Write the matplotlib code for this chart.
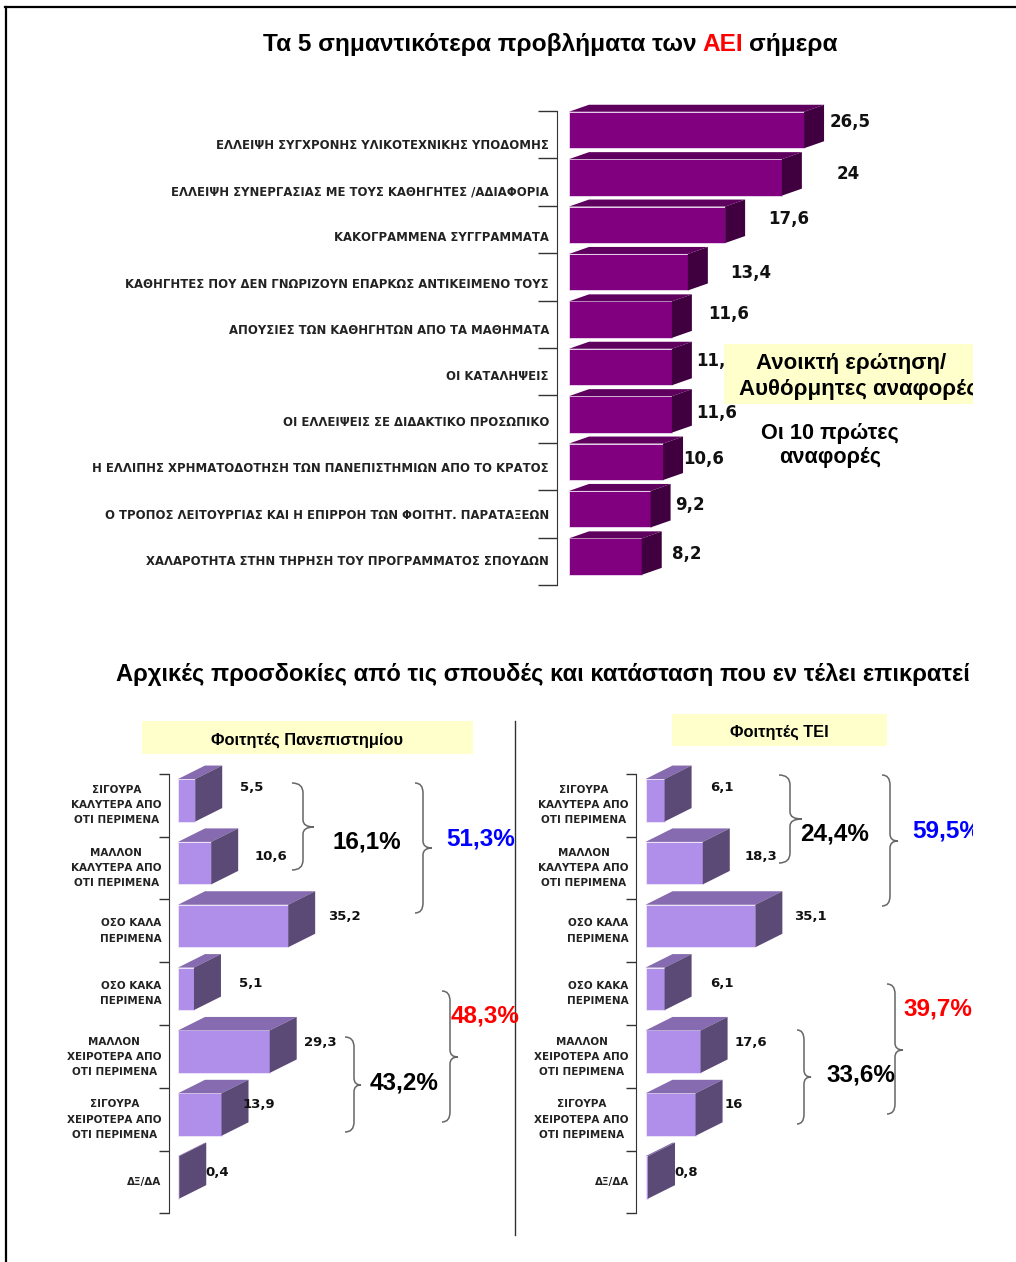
import matplotlib
matplotlib.use('Agg')
import matplotlib.pyplot as plt
from matplotlib.patches import Polygon, Rectangle, PathPatch
from matplotlib.path import Path

W, H = 1016, 1262

# data
problems = ['ΕΛΛΕΙΨΗ ΣΥΓΧΡΟΝΗΣ ΥΛΙΚΟΤΕΧΝΙΚΗΣ ΥΠΟΔΟΜΗΣ',
            'ΕΛΛΕΙΨΗ ΣΥΝΕΡΓΑΣΙΑΣ ΜΕ ΤΟΥΣ ΚΑΘΗΓΗΤΕΣ /ΑΔΙΑΦΟΡΙΑ',
            'ΚΑΚΟΓΡΑΜΜΕΝΑ ΣΥΓΓΡΑΜΜΑΤΑ',
            'ΚΑΘΗΓΗΤΕΣ ΠΟΥ ΔΕΝ ΓΝΩΡΙΖΟΥΝ ΕΠΑΡΚΩΣ ΑΝΤΙΚΕΙΜΕΝΟ ΤΟΥΣ',
            'ΑΠΟΥΣΙΕΣ ΤΩΝ ΚΑΘΗΓΗΤΩΝ ΑΠΟ ΤΑ ΜΑΘΗΜΑΤΑ',
            'ΟΙ ΚΑΤΑΛΗΨΕΙΣ',
            'ΟΙ ΕΛΛΕΙΨΕΙΣ ΣΕ ΔΙΔΑΚΤΙΚΟ ΠΡΟΣΩΠΙΚΟ',
            'Η ΕΛΛΙΠΗΣ ΧΡΗΜΑΤΟΔΟΤΗΣΗ ΤΩΝ ΠΑΝΕΠΙΣΤΗΜΙΩΝ ΑΠΟ ΤΟ ΚΡΑΤΟΣ',
            'Ο ΤΡΟΠΟΣ ΛΕΙΤΟΥΡΓΙΑΣ ΚΑΙ Η ΕΠΙΡΡΟΗ ΤΩΝ ΦΟΙΤΗΤ. ΠΑΡΑΤΑΞΕΩΝ',
            'ΧΑΛΑΡΟΤΗΤΑ ΣΤΗΝ ΤΗΡΗΣΗ ΤΟΥ ΠΡΟΓΡΑΜΜΑΤΟΣ ΣΠΟΥΔΩΝ']
problem_values = [26.5, 24, 17.6, 13.4, 11.6, 11.6, 11.6, 10.6, 9.2, 8.2]

expect_cats = ['ΣΙΓΟΥΡΑ\nΚΑΛΥΤΕΡΑ ΑΠΟ\nΟΤΙ ΠΕΡΙΜΕΝΑ',
               'ΜΑΛΛΟΝ\nΚΑΛΥΤΕΡΑ ΑΠΟ\nΟΤΙ ΠΕΡΙΜΕΝΑ',
               'ΟΣΟ ΚΑΛΑ\nΠΕΡΙΜΕΝΑ',
               'ΟΣΟ ΚΑΚΑ\nΠΕΡΙΜΕΝΑ',
               'ΜΑΛΛΟΝ\nΧΕΙΡΟΤΕΡΑ ΑΠΟ\nΟΤΙ ΠΕΡΙΜΕΝΑ',
               'ΣΙΓΟΥΡΑ\nΧΕΙΡΟΤΕΡΑ ΑΠΟ\nΟΤΙ ΠΕΡΙΜΕΝΑ',
               'ΔΞ/ΔΑ']
uni_values = [5.5, 10.6, 35.2, 5.1, 29.3, 13.9, 0.4]
tei_values = [6.1, 18.3, 35.1, 6.1, 17.6, 16, 0.8]

# hand placed value labels, pixels from the bar end
problem_off = [(26, 8), (55, 3), (43, 6), (42, -1), (36, 6), (24, 6), (24, 1), (20, 3), (25, 4), (30, 3)]
uni_off = [(45, 13), (43, 7), (40, 10), (45, 5), (34, 9), (21, 10), (26, 5)]
tei_off = [(46, 13), (42, 7), (39, 10), (46, 5), (34, 9), (29, 10), (26, 5)]

fig = plt.figure(figsize=(W / 100, H / 100), dpi=100, facecolor='white')


def pixel_axes(x0, y0, x1, y1):
    ax = fig.add_axes([x0 / W, 1 - y1 / H, (x1 - x0) / W, (y1 - y0) / H])
    ax.patch.set_alpha(0)
    for s in ['top', 'right', 'bottom']:
        ax.spines[s].set_visible(False)
    ax.spines['left'].set_color('#333333')
    ax.xaxis.set_visible(False)
    return ax


def bars3d(ax, values, height, ddx, ddy, front, top, side):
    ys = list(range(len(values)))
    ax.barh(ys, values, height=height, color=front, edgecolor='#f4eefa', linewidth=0.5)
    for y, v in zip(ys, values):
        t = y - height / 2
        b = y + height / 2
        ax.add_patch(Polygon([(0, t), (ddx, t - ddy), (v + ddx, t - ddy), (v, t)], fc=top, ec='none', clip_on=False))
        ax.add_patch(Polygon([(v, t), (v + ddx, t - ddy), (v + ddx, b - ddy), (v, b)], fc=side, ec='none', clip_on=False))


def put_values(ax, values, offs, size):
    for i, v in enumerate(values):
        s = ('%g' % v).replace('.', ',')
        ax.annotate(s, xy=(v, i), xytext=(offs[i][0], offs[i][1]), textcoords='offset pixels',
                    fontsize=size, fontweight='bold', family='DejaVu Sans', color='#111111',
                    va='center', ha='left', annotation_clip=False)


# top chart
px = 8.87
ax1 = pixel_axes(557, 111, 830, 585)
ax1.set_xlim(-12 / px, (830 - 569) / px)
y_top = lambda p: (p - 130) / 47.4
ax1.set_ylim(y_top(585), y_top(111))
bars3d(ax1, problem_values, 36.5 / 47.4, 20 / px, 7 / 47.4, '#800080', '#5f005f', '#400040')
ax1.set_yticks([y_top(111 + 47.4 * i) for i in range(11)])
ax1.set_yticklabels([])
ax1.tick_params(axis='y', length=14, width=1, color='#333333')
put_values(ax1, problem_values, problem_off, 12)
for i, lab in enumerate(problems):
    ax1.annotate(lab, xy=(0, y_top(145.5 + 46.2 * i)), xycoords=ax1.get_yaxis_transform(), xytext=(-8, 0),
                 textcoords='offset pixels', ha='right', va='center', fontsize=8.4,
                 fontweight='bold', family='DejaVu Sans', color='#222222')


# lower charts
def lower_chart(x_axis, values, offs):
    p = 3.13
    ax = pixel_axes(x_axis, 773.7, x_axis + 180, 1213.3)
    y_pos = lambda q: (q - 800.3) / 62.85
    ax.set_xlim(-(9.5) / p, 170.5 / p)
    ax.set_ylim(y_pos(1213.3), y_pos(773.7))
    bars3d(ax, values, 42.5 / 62.85, 27 / p, 13.5 / 62.85, '#b08fea', '#866bb0', '#5b4a75')
    ax.set_yticks([y_pos(773.7 + 62.8 * i) for i in range(8)])
    ax.set_yticklabels([])
    ax.tick_params(axis='y', length=7, width=1, color='#333333')
    put_values(ax, values, offs, 9.5)
    for i, lab in enumerate(expect_cats):
        ax.annotate(lab, xy=(0, i), xycoords=ax.get_yaxis_transform(), xytext=(-7, -5),
                    textcoords='offset pixels', ha='right', va='center', multialignment='center',
                    fontsize=7.5, fontweight='bold', family='DejaVu Sans', color='#222222', linespacing=1.64)
    return ax


ax2 = lower_chart(168.5, uni_values, uni_off)
ax3 = lower_chart(636, tei_values, tei_off)

# page overlay in pixels for titles, boxes and braces
page = fig.add_axes([0, 0, 1, 1], zorder=5)
page.set_xlim(0, W)
page.set_ylim(H, 0)
page.axis('off')
clip = Rectangle((0, 0), 973, H, transform=page.transData)


def label(x, y, s, size, color='black', ha='center', va='center', weight='bold', family='Liberation Sans'):
    t = page.text(x, y, s, fontsize=size, color=color, ha=ha, va=va, fontweight=weight, family=family)
    t.set_clip_path(clip)
    t.set_clip_on(True)
    return t


def brace(x0, xm, x1, y0, y1, ym):
    verts = [(x0, y0), (xm, y0), (xm, y0 + 10), (xm, ym - 7), (xm, ym), (x1, ym),
             (xm, ym), (xm, ym + 7), (xm, y1 - 10), (xm, y1), (x0, y1)]
    codes = [Path.MOVETO, Path.CURVE3, Path.CURVE3, Path.LINETO, Path.CURVE3, Path.CURVE3,
             Path.CURVE3, Path.CURVE3, Path.LINETO, Path.CURVE3, Path.CURVE3]
    page.add_patch(PathPatch(Path(verts, codes), fc='none', ec='#666666', lw=1.1))


# frame of the slide
page.plot([5, W], [7, 7], color='black', lw=1.6)
page.plot([6, 6], [7, H], color='black', lw=1.6)

# title with red word, pieces placed one after another on one baseline
r = fig.canvas.get_renderer()
x = 263
for s, c in [('Τα 5 σημαντικότερα προβλήματα των', 'black'), ('ΑΕΙ', 'red'), ('σήμερα', 'black')]:
    t = label(x, 51, s, 17.6, c, ha='left', va='baseline')
    x = t.get_window_extent(r).x1 + 6

label(543, 674, 'Αρχικές προσδοκίες από τις σπουδές και κατάσταση που εν τέλει επικρατεί', 17.1)

# yellow boxes
page.add_patch(Rectangle((724, 344), 249, 60, fc='#ffffcc', ec='none'))
page.add_patch(Rectangle((142, 721), 331, 33, fc='#ffffcc', ec='none'))
page.add_patch(Rectangle((672, 714), 215, 32, fc='#ffffcc', ec='none'))
label(851, 364, 'Ανοικτή ερώτηση/', 16)
label(858, 389, 'Αυθόρμητες αναφορές', 16)
label(830, 433, 'Οι 10 πρώτες', 15.6)
label(830, 458, 'αναφορές', 15.6)
label(307, 740, 'Φοιτητές Πανεπιστημίου', 11.8)
label(779, 732, 'Φοιτητές ΤΕΙ', 11.8)

# divider
page.plot([515, 515], [721, 1235], color='#333333', lw=1)

# braces and group sums
brace(292, 303, 314, 783, 870, 827)
brace(415, 423, 432, 783, 913, 848)
brace(442, 450, 458, 991, 1122, 1057)
brace(345, 354, 361, 1037, 1132, 1085)
brace(779, 790, 802, 775, 863, 819)
brace(882, 890, 898, 775, 906, 841)
brace(887, 895, 903, 984, 1114, 1050)
brace(797, 804, 811, 1030, 1124, 1077)
label(367, 842, '16,1%', 17.5)
label(481, 839, '51,3%', 17.5, '#0000ff')
label(404, 1083, '43,2%', 17.5)
label(485, 1016, '48,3%', 17.5, '#ff0000')
label(835, 834, '24,4%', 17.5)
label(912, 831, '59,5%', 17.5, '#0000ff', ha='left')
label(861, 1075, '33,6%', 17.5)
label(938, 1009, '39,7%', 17.5, '#ff0000')

fig.savefig('out.png', dpi=100)
